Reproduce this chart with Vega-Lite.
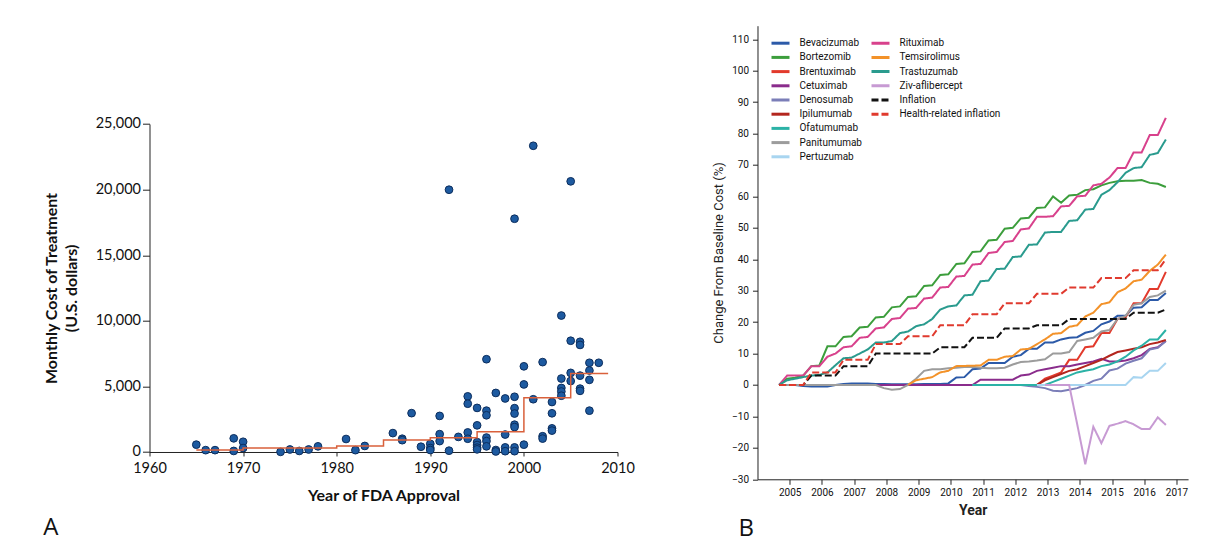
{
  "$schema": "https://vega.github.io/schema/vega-lite/v6.json",
  "background": "white",
  "padding": {"top": 25.7, "left": 42.5, "right": 0, "bottom": 6},
  "spacing": 78,
  "config": {"view": {"stroke": null}, "axis": {"grid": false}},
  "hconcat": [
    {
      "width": 468,
      "height": 426.3,
      "title": {"text": "A", "orient": "bottom", "anchor": "start", "frame": "bounds", "font": "Open Sans", "fontSize": 24, "fontWeight": "normal", "color": "#111", "offset": 13},
      "encoding": {
        "x": {"field": "year", "type": "quantitative",
          "scale": {"domain": [1960, 2010], "nice": false, "zero": false},
          "axis": {"values": [1960, 1970, 1980, 1990, 2000, 2010], "format": "d", "title": "Year of FDA Approval",
            "titleFont": "Lato", "titleFontSize": 16, "titleFontWeight": "bold", "titleColor": "#111", "titlePadding": 12,
            "labelFont": "Lato", "labelFontSize": 14.5, "labelColor": "#111", "labelPadding": 6, "labelFlush": false,
            "tickSize": 4, "domainColor": "#222", "tickColor": "#222"}},
        "y": {"field": "cost", "type": "quantitative",
          "scale": {"domain": [0, 25000], "nice": false, "range": [426.3, 98.3]},
          "axis": {"values": [0, 5000, 10000, 15000, 20000, 25000], "format": ",d", "title": ["Monthly Cost of Treatment", "(U.S. dollars)"],
            "titleFont": "Lato", "titleFontSize": 16, "titleFontWeight": "bold", "titleColor": "#111", "titlePadding": 16, "titleLineHeight": 20,
            "labelFont": "Lato", "labelFontSize": 14.5, "labelColor": "#111", "labelPadding": 2,
            "tickSize": 7, "domainColor": "#222", "tickColor": "#222"}}
      },
      "layer": [
        {
          "data": {"values": [
            {"year": 1965, "cost": 560}, {"year": 1966, "cost": 140}, {"year": 1967, "cost": 140},
            {"year": 1969, "cost": 1040}, {"year": 1969, "cost": 80}, {"year": 1970, "cost": 780}, {"year": 1970, "cost": 300},
            {"year": 1974, "cost": 10}, {"year": 1975, "cost": 190}, {"year": 1976, "cost": 80}, {"year": 1977, "cost": 190}, {"year": 1978, "cost": 430},
            {"year": 1981, "cost": 990}, {"year": 1982, "cost": 140}, {"year": 1983, "cost": 460},
            {"year": 1986, "cost": 1440}, {"year": 1987, "cost": 1010}, {"year": 1987, "cost": 900}, {"year": 1988, "cost": 2960}, {"year": 1989, "cost": 400},
            {"year": 1990, "cost": 620}, {"year": 1990, "cost": 300}, {"year": 1990, "cost": 150},
            {"year": 1991, "cost": 2750}, {"year": 1991, "cost": 1360}, {"year": 1991, "cost": 830},
            {"year": 1992, "cost": 19990}, {"year": 1992, "cost": 100}, {"year": 1993, "cost": 1150},
            {"year": 1994, "cost": 4240}, {"year": 1994, "cost": 3680}, {"year": 1994, "cost": 1490}, {"year": 1994, "cost": 1010},
            {"year": 1995, "cost": 3360}, {"year": 1995, "cost": 2030}, {"year": 1995, "cost": 750}, {"year": 1995, "cost": 530}, {"year": 1995, "cost": 330}, {"year": 1995, "cost": 200},
            {"year": 1996, "cost": 7070}, {"year": 1996, "cost": 3150}, {"year": 1996, "cost": 2800}, {"year": 1996, "cost": 1100}, {"year": 1996, "cost": 830}, {"year": 1996, "cost": 430},
            {"year": 1997, "cost": 4500}, {"year": 1997, "cost": 150}, {"year": 1997, "cost": 40},
            {"year": 1998, "cost": 4080}, {"year": 1998, "cost": 1330}, {"year": 1998, "cost": 350}, {"year": 1998, "cost": 60},
            {"year": 1999, "cost": 17780}, {"year": 1999, "cost": 4210}, {"year": 1999, "cost": 3340}, {"year": 1999, "cost": 2930}, {"year": 1999, "cost": 2080}, {"year": 1999, "cost": 1900}, {"year": 1999, "cost": 350}, {"year": 1999, "cost": 60},
            {"year": 2000, "cost": 6530}, {"year": 2000, "cost": 5150}, {"year": 2000, "cost": 560},
            {"year": 2001, "cost": 23340}, {"year": 2001, "cost": 4020},
            {"year": 2002, "cost": 6850}, {"year": 2002, "cost": 1200}, {"year": 2002, "cost": 1020},
            {"year": 2003, "cost": 3810}, {"year": 2003, "cost": 2950}, {"year": 2003, "cost": 1800}, {"year": 2003, "cost": 1630},
            {"year": 2004, "cost": 10400}, {"year": 2004, "cost": 5600}, {"year": 2004, "cost": 4880}, {"year": 2004, "cost": 4610}, {"year": 2004, "cost": 4290},
            {"year": 2005, "cost": 20630}, {"year": 2005, "cost": 8480}, {"year": 2005, "cost": 6030}, {"year": 2005, "cost": 5410},
            {"year": 2006, "cost": 8400}, {"year": 2006, "cost": 8160}, {"year": 2006, "cost": 5820}, {"year": 2006, "cost": 4830}, {"year": 2006, "cost": 4660},
            {"year": 2007, "cost": 6800}, {"year": 2007, "cost": 6210}, {"year": 2007, "cost": 5500}, {"year": 2007, "cost": 3150},
            {"year": 2008, "cost": 6800}
          ]},
          "mark": {"type": "circle", "size": 60, "fill": "#1d5aa0", "stroke": "#0c2d5c", "strokeWidth": 1, "opacity": 1}
        },
        {
          "data": {"values": [
            {"year": 1965, "cost": 150}, {"year": 1970, "cost": 310}, {"year": 1980, "cost": 460}, {"year": 1985, "cost": 915},
            {"year": 1990, "cost": 1090}, {"year": 1995, "cost": 1550}, {"year": 2000, "cost": 4130}, {"year": 2005, "cost": 5990}, {"year": 2009, "cost": 5990}
          ]},
          "mark": {"type": "line", "interpolate": "step-after", "color": "#d9603b", "strokeWidth": 1.5}
        }
      ]
    },
    {
      "width": 430.6,
      "height": 453.6,
      "title": {"text": "B", "orient": "bottom", "anchor": "start", "frame": "bounds", "font": "Open Sans", "fontSize": 24, "fontWeight": "normal", "color": "#111", "offset": 0, "dx": 26},
      "data": {"values": [
        {"s": "Bevacizumab", "t": 2004.67, "v": 0}, {"s": "Bevacizumab", "t": 2005.17, "v": 0}, {"s": "Bevacizumab", "t": 2005.42, "v": -0.3}, {"s": "Bevacizumab", "t": 2005.67, "v": -0.5}, {"s": "Bevacizumab", "t": 2006.17, "v": -0.5}, {"s": "Bevacizumab", "t": 2006.42, "v": 0}, {"s": "Bevacizumab", "t": 2006.67, "v": 0.3}, {"s": "Bevacizumab", "t": 2006.92, "v": 0.5}, {"s": "Bevacizumab", "t": 2007.42, "v": 0.5}, {"s": "Bevacizumab", "t": 2007.67, "v": 0.3}, {"s": "Bevacizumab", "t": 2007.92, "v": 0.3}, {"s": "Bevacizumab", "t": 2008.17, "v": 0.2}, {"s": "Bevacizumab", "t": 2008.92, "v": 0.2}, {"s": "Bevacizumab", "t": 2009.17, "v": 0.3}, {"s": "Bevacizumab", "t": 2009.67, "v": 0.3}, {"s": "Bevacizumab", "t": 2009.92, "v": 0.5}, {"s": "Bevacizumab", "t": 2010.17, "v": 2.4}, {"s": "Bevacizumab", "t": 2010.42, "v": 2.5}, {"s": "Bevacizumab", "t": 2010.67, "v": 5}, {"s": "Bevacizumab", "t": 2010.92, "v": 5.2}, {"s": "Bevacizumab", "t": 2011.17, "v": 7}, {"s": "Bevacizumab", "t": 2011.67, "v": 7}, {"s": "Bevacizumab", "t": 2011.92, "v": 9}, {"s": "Bevacizumab", "t": 2012.17, "v": 9.5}, {"s": "Bevacizumab", "t": 2012.42, "v": 11.5}, {"s": "Bevacizumab", "t": 2012.67, "v": 11.5}, {"s": "Bevacizumab", "t": 2012.92, "v": 13.5}, {"s": "Bevacizumab", "t": 2013.17, "v": 13.5}, {"s": "Bevacizumab", "t": 2013.42, "v": 14.5}, {"s": "Bevacizumab", "t": 2013.67, "v": 15}, {"s": "Bevacizumab", "t": 2013.92, "v": 15.2}, {"s": "Bevacizumab", "t": 2014.17, "v": 16.6}, {"s": "Bevacizumab", "t": 2014.42, "v": 17.2}, {"s": "Bevacizumab", "t": 2014.67, "v": 19.3}, {"s": "Bevacizumab", "t": 2014.92, "v": 20.2}, {"s": "Bevacizumab", "t": 2015.17, "v": 22}, {"s": "Bevacizumab", "t": 2015.42, "v": 22}, {"s": "Bevacizumab", "t": 2015.67, "v": 24.6}, {"s": "Bevacizumab", "t": 2015.92, "v": 24.7}, {"s": "Bevacizumab", "t": 2016.17, "v": 27}, {"s": "Bevacizumab", "t": 2016.42, "v": 27}, {"s": "Bevacizumab", "t": 2016.67, "v": 29.3},

        {"s": "Bortezomib", "t": 2004.67, "v": 0}, {"s": "Bortezomib", "t": 2004.92, "v": 2}, {"s": "Bortezomib", "t": 2005.17, "v": 2.3}, {"s": "Bortezomib", "t": 2005.42, "v": 3}, {"s": "Bortezomib", "t": 2005.67, "v": 6}, {"s": "Bortezomib", "t": 2005.92, "v": 6.2}, {"s": "Bortezomib", "t": 2006.17, "v": 12.3}, {"s": "Bortezomib", "t": 2006.42, "v": 12.3}, {"s": "Bortezomib", "t": 2006.67, "v": 15.3}, {"s": "Bortezomib", "t": 2006.92, "v": 15.5}, {"s": "Bortezomib", "t": 2007.17, "v": 18.3}, {"s": "Bortezomib", "t": 2007.42, "v": 18.5}, {"s": "Bortezomib", "t": 2007.67, "v": 21.5}, {"s": "Bortezomib", "t": 2007.92, "v": 21.7}, {"s": "Bortezomib", "t": 2008.17, "v": 24.7}, {"s": "Bortezomib", "t": 2008.42, "v": 25}, {"s": "Bortezomib", "t": 2008.67, "v": 28}, {"s": "Bortezomib", "t": 2008.92, "v": 28.2}, {"s": "Bortezomib", "t": 2009.17, "v": 31.5}, {"s": "Bortezomib", "t": 2009.42, "v": 31.7}, {"s": "Bortezomib", "t": 2009.67, "v": 35}, {"s": "Bortezomib", "t": 2009.92, "v": 35.2}, {"s": "Bortezomib", "t": 2010.17, "v": 38.5}, {"s": "Bortezomib", "t": 2010.42, "v": 38.7}, {"s": "Bortezomib", "t": 2010.67, "v": 42.3}, {"s": "Bortezomib", "t": 2010.92, "v": 42.5}, {"s": "Bortezomib", "t": 2011.17, "v": 46}, {"s": "Bortezomib", "t": 2011.42, "v": 46.2}, {"s": "Bortezomib", "t": 2011.67, "v": 49.7}, {"s": "Bortezomib", "t": 2011.92, "v": 50}, {"s": "Bortezomib", "t": 2012.17, "v": 53}, {"s": "Bortezomib", "t": 2012.42, "v": 53.2}, {"s": "Bortezomib", "t": 2012.67, "v": 56.3}, {"s": "Bortezomib", "t": 2012.92, "v": 56.5}, {"s": "Bortezomib", "t": 2013.17, "v": 60}, {"s": "Bortezomib", "t": 2013.42, "v": 58}, {"s": "Bortezomib", "t": 2013.67, "v": 60.3}, {"s": "Bortezomib", "t": 2013.92, "v": 60.5}, {"s": "Bortezomib", "t": 2014.17, "v": 62}, {"s": "Bortezomib", "t": 2014.42, "v": 62.3}, {"s": "Bortezomib", "t": 2014.67, "v": 63.5}, {"s": "Bortezomib", "t": 2014.92, "v": 64.3}, {"s": "Bortezomib", "t": 2015.17, "v": 64.8}, {"s": "Bortezomib", "t": 2015.42, "v": 65}, {"s": "Bortezomib", "t": 2015.67, "v": 65}, {"s": "Bortezomib", "t": 2015.92, "v": 65.2}, {"s": "Bortezomib", "t": 2016.17, "v": 64.3}, {"s": "Bortezomib", "t": 2016.42, "v": 64}, {"s": "Bortezomib", "t": 2016.67, "v": 63},

        {"s": "Brentuximab", "t": 2011.67, "v": 0}, {"s": "Brentuximab", "t": 2012.67, "v": 0}, {"s": "Brentuximab", "t": 2012.92, "v": 2}, {"s": "Brentuximab", "t": 2013.17, "v": 3}, {"s": "Brentuximab", "t": 2013.42, "v": 4}, {"s": "Brentuximab", "t": 2013.67, "v": 8}, {"s": "Brentuximab", "t": 2013.92, "v": 8}, {"s": "Brentuximab", "t": 2014.17, "v": 12}, {"s": "Brentuximab", "t": 2014.42, "v": 12.3}, {"s": "Brentuximab", "t": 2014.67, "v": 16.5}, {"s": "Brentuximab", "t": 2014.92, "v": 16.5}, {"s": "Brentuximab", "t": 2015.17, "v": 21}, {"s": "Brentuximab", "t": 2015.42, "v": 21.5}, {"s": "Brentuximab", "t": 2015.67, "v": 26}, {"s": "Brentuximab", "t": 2015.92, "v": 26}, {"s": "Brentuximab", "t": 2016.17, "v": 30.5}, {"s": "Brentuximab", "t": 2016.42, "v": 30.5}, {"s": "Brentuximab", "t": 2016.67, "v": 36},

        {"s": "Cetuximab", "t": 2004.67, "v": 0}, {"s": "Cetuximab", "t": 2010.67, "v": 0}, {"s": "Cetuximab", "t": 2010.92, "v": 1.7}, {"s": "Cetuximab", "t": 2011.92, "v": 1.7}, {"s": "Cetuximab", "t": 2012.17, "v": 3}, {"s": "Cetuximab", "t": 2012.42, "v": 3.3}, {"s": "Cetuximab", "t": 2012.67, "v": 4.5}, {"s": "Cetuximab", "t": 2012.92, "v": 5}, {"s": "Cetuximab", "t": 2013.17, "v": 5.5}, {"s": "Cetuximab", "t": 2013.42, "v": 6}, {"s": "Cetuximab", "t": 2013.67, "v": 6}, {"s": "Cetuximab", "t": 2013.92, "v": 6.5}, {"s": "Cetuximab", "t": 2014.17, "v": 7}, {"s": "Cetuximab", "t": 2014.42, "v": 7.5}, {"s": "Cetuximab", "t": 2014.67, "v": 8.3}, {"s": "Cetuximab", "t": 2014.92, "v": 7.5}, {"s": "Cetuximab", "t": 2015.17, "v": 7.5}, {"s": "Cetuximab", "t": 2015.42, "v": 7.8}, {"s": "Cetuximab", "t": 2015.67, "v": 8.5}, {"s": "Cetuximab", "t": 2015.92, "v": 9.5}, {"s": "Cetuximab", "t": 2016.17, "v": 11.5}, {"s": "Cetuximab", "t": 2016.42, "v": 12}, {"s": "Cetuximab", "t": 2016.67, "v": 14},

        {"s": "Denosumab", "t": 2010.67, "v": 0}, {"s": "Denosumab", "t": 2012.17, "v": 0}, {"s": "Denosumab", "t": 2012.42, "v": -0.3}, {"s": "Denosumab", "t": 2012.67, "v": -0.6}, {"s": "Denosumab", "t": 2012.92, "v": -1}, {"s": "Denosumab", "t": 2013.17, "v": -1.8}, {"s": "Denosumab", "t": 2013.42, "v": -2}, {"s": "Denosumab", "t": 2013.67, "v": -1.5}, {"s": "Denosumab", "t": 2013.92, "v": -1}, {"s": "Denosumab", "t": 2014.17, "v": 0}, {"s": "Denosumab", "t": 2014.42, "v": 1.3}, {"s": "Denosumab", "t": 2014.67, "v": 2}, {"s": "Denosumab", "t": 2014.92, "v": 4.6}, {"s": "Denosumab", "t": 2015.17, "v": 5.2}, {"s": "Denosumab", "t": 2015.42, "v": 6.8}, {"s": "Denosumab", "t": 2015.67, "v": 7.7}, {"s": "Denosumab", "t": 2015.92, "v": 8.5}, {"s": "Denosumab", "t": 2016.17, "v": 11.3}, {"s": "Denosumab", "t": 2016.42, "v": 11.8}, {"s": "Denosumab", "t": 2016.67, "v": 14},

        {"s": "Ipilumumab", "t": 2011.17, "v": 0}, {"s": "Ipilumumab", "t": 2012.67, "v": 0}, {"s": "Ipilumumab", "t": 2012.92, "v": 1.5}, {"s": "Ipilumumab", "t": 2013.17, "v": 2.5}, {"s": "Ipilumumab", "t": 2013.42, "v": 3.5}, {"s": "Ipilumumab", "t": 2013.67, "v": 4.5}, {"s": "Ipilumumab", "t": 2013.92, "v": 5}, {"s": "Ipilumumab", "t": 2014.17, "v": 6}, {"s": "Ipilumumab", "t": 2014.42, "v": 7}, {"s": "Ipilumumab", "t": 2014.67, "v": 8}, {"s": "Ipilumumab", "t": 2014.92, "v": 9.3}, {"s": "Ipilumumab", "t": 2015.17, "v": 10.5}, {"s": "Ipilumumab", "t": 2015.42, "v": 11}, {"s": "Ipilumumab", "t": 2015.67, "v": 11.5}, {"s": "Ipilumumab", "t": 2015.92, "v": 12}, {"s": "Ipilumumab", "t": 2016.17, "v": 13}, {"s": "Ipilumumab", "t": 2016.42, "v": 13.5}, {"s": "Ipilumumab", "t": 2016.67, "v": 14.3},

        {"s": "Ofatumumab", "t": 2010.67, "v": 0}, {"s": "Ofatumumab", "t": 2012.92, "v": 0}, {"s": "Ofatumumab", "t": 2013.17, "v": 1}, {"s": "Ofatumumab", "t": 2013.42, "v": 2}, {"s": "Ofatumumab", "t": 2013.67, "v": 3}, {"s": "Ofatumumab", "t": 2013.92, "v": 4}, {"s": "Ofatumumab", "t": 2014.17, "v": 4.5}, {"s": "Ofatumumab", "t": 2014.42, "v": 5}, {"s": "Ofatumumab", "t": 2014.67, "v": 6}, {"s": "Ofatumumab", "t": 2014.92, "v": 6.5}, {"s": "Ofatumumab", "t": 2015.17, "v": 7.5}, {"s": "Ofatumumab", "t": 2015.42, "v": 9}, {"s": "Ofatumumab", "t": 2015.67, "v": 11}, {"s": "Ofatumumab", "t": 2015.92, "v": 12.5}, {"s": "Ofatumumab", "t": 2016.17, "v": 14.5}, {"s": "Ofatumumab", "t": 2016.42, "v": 14.5}, {"s": "Ofatumumab", "t": 2016.67, "v": 17.5},

        {"s": "Panitumumab", "t": 2004.67, "v": 0}, {"s": "Panitumumab", "t": 2007.67, "v": 0}, {"s": "Panitumumab", "t": 2007.92, "v": -1}, {"s": "Panitumumab", "t": 2008.17, "v": -1.5}, {"s": "Panitumumab", "t": 2008.42, "v": -1.3}, {"s": "Panitumumab", "t": 2008.67, "v": 0}, {"s": "Panitumumab", "t": 2008.92, "v": 2}, {"s": "Panitumumab", "t": 2009.17, "v": 4.5}, {"s": "Panitumumab", "t": 2009.42, "v": 5}, {"s": "Panitumumab", "t": 2009.67, "v": 5}, {"s": "Panitumumab", "t": 2009.92, "v": 5.3}, {"s": "Panitumumab", "t": 2010.17, "v": 5.5}, {"s": "Panitumumab", "t": 2010.42, "v": 5.7}, {"s": "Panitumumab", "t": 2010.67, "v": 5.8}, {"s": "Panitumumab", "t": 2010.92, "v": 5.5}, {"s": "Panitumumab", "t": 2011.17, "v": 5.3}, {"s": "Panitumumab", "t": 2011.42, "v": 5.3}, {"s": "Panitumumab", "t": 2011.67, "v": 5.5}, {"s": "Panitumumab", "t": 2011.92, "v": 6.5}, {"s": "Panitumumab", "t": 2012.17, "v": 7.3}, {"s": "Panitumumab", "t": 2012.42, "v": 7.5}, {"s": "Panitumumab", "t": 2012.67, "v": 7.8}, {"s": "Panitumumab", "t": 2012.92, "v": 8.2}, {"s": "Panitumumab", "t": 2013.17, "v": 10}, {"s": "Panitumumab", "t": 2013.42, "v": 10}, {"s": "Panitumumab", "t": 2013.67, "v": 10.5}, {"s": "Panitumumab", "t": 2013.92, "v": 14}, {"s": "Panitumumab", "t": 2014.17, "v": 14.5}, {"s": "Panitumumab", "t": 2014.42, "v": 15}, {"s": "Panitumumab", "t": 2014.67, "v": 17}, {"s": "Panitumumab", "t": 2014.92, "v": 17.5}, {"s": "Panitumumab", "t": 2015.17, "v": 21}, {"s": "Panitumumab", "t": 2015.42, "v": 22}, {"s": "Panitumumab", "t": 2015.67, "v": 25.5}, {"s": "Panitumumab", "t": 2015.92, "v": 26}, {"s": "Panitumumab", "t": 2016.17, "v": 28}, {"s": "Panitumumab", "t": 2016.42, "v": 28.5}, {"s": "Panitumumab", "t": 2016.67, "v": 30},

        {"s": "Pertuzumab", "t": 2012.67, "v": 0}, {"s": "Pertuzumab", "t": 2015.42, "v": 0}, {"s": "Pertuzumab", "t": 2015.67, "v": 2.5}, {"s": "Pertuzumab", "t": 2015.92, "v": 2.3}, {"s": "Pertuzumab", "t": 2016.17, "v": 4.5}, {"s": "Pertuzumab", "t": 2016.42, "v": 4.5}, {"s": "Pertuzumab", "t": 2016.67, "v": 7},

        {"s": "Rituximab", "t": 2004.67, "v": 0}, {"s": "Rituximab", "t": 2004.92, "v": 3}, {"s": "Rituximab", "t": 2005.17, "v": 3}, {"s": "Rituximab", "t": 2005.42, "v": 3}, {"s": "Rituximab", "t": 2005.67, "v": 6}, {"s": "Rituximab", "t": 2005.92, "v": 6}, {"s": "Rituximab", "t": 2006.17, "v": 9}, {"s": "Rituximab", "t": 2006.42, "v": 10}, {"s": "Rituximab", "t": 2006.67, "v": 12}, {"s": "Rituximab", "t": 2006.92, "v": 12.3}, {"s": "Rituximab", "t": 2007.17, "v": 15}, {"s": "Rituximab", "t": 2007.42, "v": 15.3}, {"s": "Rituximab", "t": 2007.67, "v": 18}, {"s": "Rituximab", "t": 2007.92, "v": 18.3}, {"s": "Rituximab", "t": 2008.17, "v": 21}, {"s": "Rituximab", "t": 2008.42, "v": 21.3}, {"s": "Rituximab", "t": 2008.67, "v": 24.3}, {"s": "Rituximab", "t": 2008.92, "v": 24.5}, {"s": "Rituximab", "t": 2009.17, "v": 27.5}, {"s": "Rituximab", "t": 2009.42, "v": 27.8}, {"s": "Rituximab", "t": 2009.67, "v": 31}, {"s": "Rituximab", "t": 2009.92, "v": 31.2}, {"s": "Rituximab", "t": 2010.17, "v": 34.5}, {"s": "Rituximab", "t": 2010.42, "v": 34.7}, {"s": "Rituximab", "t": 2010.67, "v": 38.3}, {"s": "Rituximab", "t": 2010.92, "v": 38.5}, {"s": "Rituximab", "t": 2011.17, "v": 42}, {"s": "Rituximab", "t": 2011.42, "v": 42.3}, {"s": "Rituximab", "t": 2011.67, "v": 45.5}, {"s": "Rituximab", "t": 2011.92, "v": 45.8}, {"s": "Rituximab", "t": 2012.17, "v": 49.5}, {"s": "Rituximab", "t": 2012.42, "v": 49.8}, {"s": "Rituximab", "t": 2012.67, "v": 53.5}, {"s": "Rituximab", "t": 2012.92, "v": 53.5}, {"s": "Rituximab", "t": 2013.17, "v": 53.7}, {"s": "Rituximab", "t": 2013.42, "v": 56.8}, {"s": "Rituximab", "t": 2013.67, "v": 57}, {"s": "Rituximab", "t": 2013.92, "v": 60}, {"s": "Rituximab", "t": 2014.17, "v": 60.2}, {"s": "Rituximab", "t": 2014.42, "v": 63.5}, {"s": "Rituximab", "t": 2014.67, "v": 64}, {"s": "Rituximab", "t": 2014.92, "v": 66}, {"s": "Rituximab", "t": 2015.17, "v": 69}, {"s": "Rituximab", "t": 2015.42, "v": 69}, {"s": "Rituximab", "t": 2015.67, "v": 74}, {"s": "Rituximab", "t": 2015.92, "v": 74}, {"s": "Rituximab", "t": 2016.17, "v": 79.5}, {"s": "Rituximab", "t": 2016.42, "v": 79.5}, {"s": "Rituximab", "t": 2016.67, "v": 85},

        {"s": "Temsirolimus", "t": 2008.67, "v": 0}, {"s": "Temsirolimus", "t": 2008.92, "v": 1.5}, {"s": "Temsirolimus", "t": 2009.17, "v": 2}, {"s": "Temsirolimus", "t": 2009.42, "v": 2.5}, {"s": "Temsirolimus", "t": 2009.67, "v": 4}, {"s": "Temsirolimus", "t": 2009.92, "v": 4.5}, {"s": "Temsirolimus", "t": 2010.17, "v": 6}, {"s": "Temsirolimus", "t": 2010.92, "v": 6.2}, {"s": "Temsirolimus", "t": 2011.17, "v": 8}, {"s": "Temsirolimus", "t": 2011.42, "v": 8}, {"s": "Temsirolimus", "t": 2011.67, "v": 9}, {"s": "Temsirolimus", "t": 2011.92, "v": 9.2}, {"s": "Temsirolimus", "t": 2012.17, "v": 11.3}, {"s": "Temsirolimus", "t": 2012.42, "v": 11.5}, {"s": "Temsirolimus", "t": 2012.67, "v": 13}, {"s": "Temsirolimus", "t": 2012.92, "v": 14.5}, {"s": "Temsirolimus", "t": 2013.17, "v": 16.3}, {"s": "Temsirolimus", "t": 2013.42, "v": 16.5}, {"s": "Temsirolimus", "t": 2013.67, "v": 18.5}, {"s": "Temsirolimus", "t": 2013.92, "v": 19}, {"s": "Temsirolimus", "t": 2014.17, "v": 21.8}, {"s": "Temsirolimus", "t": 2014.42, "v": 23}, {"s": "Temsirolimus", "t": 2014.67, "v": 25.7}, {"s": "Temsirolimus", "t": 2014.92, "v": 26.3}, {"s": "Temsirolimus", "t": 2015.17, "v": 29.5}, {"s": "Temsirolimus", "t": 2015.42, "v": 30.7}, {"s": "Temsirolimus", "t": 2015.67, "v": 33}, {"s": "Temsirolimus", "t": 2015.92, "v": 33.5}, {"s": "Temsirolimus", "t": 2016.17, "v": 36.3}, {"s": "Temsirolimus", "t": 2016.42, "v": 38.3}, {"s": "Temsirolimus", "t": 2016.67, "v": 41.5},

        {"s": "Trastuzumab", "t": 2004.67, "v": 0}, {"s": "Trastuzumab", "t": 2004.92, "v": 1.5}, {"s": "Trastuzumab", "t": 2005.17, "v": 2}, {"s": "Trastuzumab", "t": 2005.42, "v": 2.5}, {"s": "Trastuzumab", "t": 2005.67, "v": 3}, {"s": "Trastuzumab", "t": 2005.92, "v": 3.2}, {"s": "Trastuzumab", "t": 2006.17, "v": 4}, {"s": "Trastuzumab", "t": 2006.42, "v": 6.3}, {"s": "Trastuzumab", "t": 2006.67, "v": 8.5}, {"s": "Trastuzumab", "t": 2006.92, "v": 8.7}, {"s": "Trastuzumab", "t": 2007.17, "v": 10}, {"s": "Trastuzumab", "t": 2007.42, "v": 11.3}, {"s": "Trastuzumab", "t": 2007.67, "v": 13.5}, {"s": "Trastuzumab", "t": 2007.92, "v": 13.5}, {"s": "Trastuzumab", "t": 2008.17, "v": 14}, {"s": "Trastuzumab", "t": 2008.42, "v": 16.5}, {"s": "Trastuzumab", "t": 2008.67, "v": 17}, {"s": "Trastuzumab", "t": 2008.92, "v": 18.7}, {"s": "Trastuzumab", "t": 2009.17, "v": 19.3}, {"s": "Trastuzumab", "t": 2009.42, "v": 21}, {"s": "Trastuzumab", "t": 2009.67, "v": 24}, {"s": "Trastuzumab", "t": 2009.92, "v": 25}, {"s": "Trastuzumab", "t": 2010.17, "v": 25.3}, {"s": "Trastuzumab", "t": 2010.42, "v": 28.5}, {"s": "Trastuzumab", "t": 2010.67, "v": 28.7}, {"s": "Trastuzumab", "t": 2010.92, "v": 33}, {"s": "Trastuzumab", "t": 2011.17, "v": 33.2}, {"s": "Trastuzumab", "t": 2011.42, "v": 36.9}, {"s": "Trastuzumab", "t": 2011.67, "v": 37}, {"s": "Trastuzumab", "t": 2011.92, "v": 40.7}, {"s": "Trastuzumab", "t": 2012.17, "v": 40.9}, {"s": "Trastuzumab", "t": 2012.42, "v": 44.6}, {"s": "Trastuzumab", "t": 2012.67, "v": 44.7}, {"s": "Trastuzumab", "t": 2012.92, "v": 48.5}, {"s": "Trastuzumab", "t": 2013.17, "v": 48.7}, {"s": "Trastuzumab", "t": 2013.42, "v": 48.7}, {"s": "Trastuzumab", "t": 2013.67, "v": 52.2}, {"s": "Trastuzumab", "t": 2013.92, "v": 52.4}, {"s": "Trastuzumab", "t": 2014.17, "v": 55.8}, {"s": "Trastuzumab", "t": 2014.42, "v": 56}, {"s": "Trastuzumab", "t": 2014.67, "v": 60.5}, {"s": "Trastuzumab", "t": 2014.92, "v": 62}, {"s": "Trastuzumab", "t": 2015.17, "v": 64.5}, {"s": "Trastuzumab", "t": 2015.42, "v": 67.5}, {"s": "Trastuzumab", "t": 2015.67, "v": 69}, {"s": "Trastuzumab", "t": 2015.92, "v": 69.3}, {"s": "Trastuzumab", "t": 2016.17, "v": 73.2}, {"s": "Trastuzumab", "t": 2016.42, "v": 73.8}, {"s": "Trastuzumab", "t": 2016.67, "v": 78.1},

        {"s": "Ziv-aflibercept", "t": 2012.92, "v": 0}, {"s": "Ziv-aflibercept", "t": 2013.67, "v": 0}, {"s": "Ziv-aflibercept", "t": 2013.92, "v": -12.5}, {"s": "Ziv-aflibercept", "t": 2014.17, "v": -25.2}, {"s": "Ziv-aflibercept", "t": 2014.42, "v": -13.3}, {"s": "Ziv-aflibercept", "t": 2014.67, "v": -18.5}, {"s": "Ziv-aflibercept", "t": 2014.92, "v": -13}, {"s": "Ziv-aflibercept", "t": 2015.17, "v": -12.3}, {"s": "Ziv-aflibercept", "t": 2015.42, "v": -11.5}, {"s": "Ziv-aflibercept", "t": 2015.67, "v": -12.5}, {"s": "Ziv-aflibercept", "t": 2015.92, "v": -14}, {"s": "Ziv-aflibercept", "t": 2016.17, "v": -14}, {"s": "Ziv-aflibercept", "t": 2016.42, "v": -10.3}, {"s": "Ziv-aflibercept", "t": 2016.67, "v": -12.7},

        {"s": "Inflation", "t": 2004.67, "v": 0}, {"s": "Inflation", "t": 2005.42, "v": 0}, {"s": "Inflation", "t": 2005.67, "v": 3}, {"s": "Inflation", "t": 2006.42, "v": 3}, {"s": "Inflation", "t": 2006.67, "v": 6}, {"s": "Inflation", "t": 2007.42, "v": 6}, {"s": "Inflation", "t": 2007.67, "v": 10}, {"s": "Inflation", "t": 2009.42, "v": 10}, {"s": "Inflation", "t": 2009.67, "v": 12}, {"s": "Inflation", "t": 2010.42, "v": 12}, {"s": "Inflation", "t": 2010.67, "v": 15}, {"s": "Inflation", "t": 2011.42, "v": 15}, {"s": "Inflation", "t": 2011.67, "v": 18}, {"s": "Inflation", "t": 2012.42, "v": 18}, {"s": "Inflation", "t": 2012.67, "v": 19}, {"s": "Inflation", "t": 2013.42, "v": 19}, {"s": "Inflation", "t": 2013.67, "v": 21}, {"s": "Inflation", "t": 2015.42, "v": 21}, {"s": "Inflation", "t": 2015.67, "v": 23}, {"s": "Inflation", "t": 2016.42, "v": 23}, {"s": "Inflation", "t": 2016.67, "v": 24},

        {"s": "Health-related inflation", "t": 2004.67, "v": 0}, {"s": "Health-related inflation", "t": 2005.42, "v": 0}, {"s": "Health-related inflation", "t": 2005.67, "v": 4}, {"s": "Health-related inflation", "t": 2006.42, "v": 4}, {"s": "Health-related inflation", "t": 2006.67, "v": 8}, {"s": "Health-related inflation", "t": 2007.42, "v": 8}, {"s": "Health-related inflation", "t": 2007.67, "v": 13}, {"s": "Health-related inflation", "t": 2008.42, "v": 13}, {"s": "Health-related inflation", "t": 2008.67, "v": 15.5}, {"s": "Health-related inflation", "t": 2009.42, "v": 15.5}, {"s": "Health-related inflation", "t": 2009.67, "v": 19}, {"s": "Health-related inflation", "t": 2010.42, "v": 19}, {"s": "Health-related inflation", "t": 2010.67, "v": 22.5}, {"s": "Health-related inflation", "t": 2011.42, "v": 22.5}, {"s": "Health-related inflation", "t": 2011.67, "v": 26}, {"s": "Health-related inflation", "t": 2012.42, "v": 26}, {"s": "Health-related inflation", "t": 2012.67, "v": 29}, {"s": "Health-related inflation", "t": 2013.42, "v": 29}, {"s": "Health-related inflation", "t": 2013.67, "v": 31}, {"s": "Health-related inflation", "t": 2014.42, "v": 31}, {"s": "Health-related inflation", "t": 2014.67, "v": 34}, {"s": "Health-related inflation", "t": 2015.42, "v": 34}, {"s": "Health-related inflation", "t": 2015.67, "v": 36.5}, {"s": "Health-related inflation", "t": 2016.42, "v": 36.5}, {"s": "Health-related inflation", "t": 2016.67, "v": 40}
      ]},
      "encoding": {
        "x": {"field": "t", "type": "quantitative",
          "scale": {"domain": [2004, 2017.36], "nice": false, "zero": false},
          "axis": {"values": [2005, 2006, 2007, 2008, 2009, 2010, 2011, 2012, 2013, 2014, 2015, 2016, 2017], "format": "d", "title": "Year",
            "titleFont": "Roboto", "titleFontSize": 14, "titleFontWeight": "bold", "titleColor": "#222", "titlePadding": 6,
            "labelFont": "Roboto", "labelFontSize": 10, "labelColor": "#111", "labelPadding": 3, "labelFlush": false,
            "tickSize": 5, "domainColor": "#222", "tickColor": "#222"}},
        "y": {"field": "v", "type": "quantitative",
          "scale": {"domain": [-30, 114.3], "nice": false, "zero": false},
          "axis": {"values": [-30, -20, -10, 0, 10, 20, 30, 40, 50, 60, 70, 80, 90, 100, 110], "title": "Change From Baseline Cost (%)",
            "titleFont": "Roboto", "titleFontSize": 13, "titleFontWeight": "normal", "titleColor": "#222", "titlePadding": 6,
            "labelFont": "Roboto", "labelFontSize": 10, "labelColor": "#111", "labelPadding": 4,
            "tickSize": 5, "domainColor": "#222", "tickColor": "#222"}}
      },
      "layer": [
        {
          "transform": [{"filter": {"field": "s", "oneOf": ["Bevacizumab", "Bortezomib", "Brentuximab", "Cetuximab", "Denosumab", "Ipilumumab", "Ofatumumab", "Panitumumab", "Pertuzumab"]}}],
          "mark": {"type": "line", "strokeWidth": 2},
          "encoding": {
            "color": {"field": "s", "type": "nominal",
              "scale": {"domain": ["Bevacizumab", "Bortezomib", "Brentuximab", "Cetuximab", "Denosumab", "Ipilumumab", "Ofatumumab", "Panitumumab", "Pertuzumab"],
                "range": ["#2c5aa8", "#3c9e3c", "#e23a2c", "#8a2c8c", "#7b7eb8", "#b3261e", "#2bb2a6", "#9c9c9c", "#a8d5f0"]},
              "legend": {"orient": "none", "legendX": 16.5, "legendY": 11, "title": null, "padding": 0,
                "labelFont": "Roboto", "labelFontSize": 10, "labelColor": "#111", "labelOffset": 12.5,
                "symbolType": "M-1.8,0L1.8,0", "symbolSize": 100, "symbolStrokeWidth": 3, "rowPadding": 1.2}}
          }
        },
        {
          "transform": [{"filter": {"field": "s", "oneOf": ["Rituximab", "Temsirolimus", "Trastuzumab", "Ziv-aflibercept", "Inflation", "Health-related inflation"]}}],
          "mark": {"type": "line", "strokeWidth": 2},
          "encoding": {
            "color": {"field": "s", "type": "nominal",
              "scale": {"domain": ["Rituximab", "Temsirolimus", "Trastuzumab", "Ziv-aflibercept", "Inflation", "Health-related inflation"],
                "range": ["#d8418c", "#f39229", "#2a9b8e", "#c79ad3", "#111111", "#e03a2e"]},
              "legend": {"orient": "none", "legendX": 116.5, "legendY": 11, "title": null, "padding": 0,
                "labelFont": "Roboto", "labelFontSize": 10, "labelColor": "#111", "labelOffset": 12.5,
                "symbolType": "M-1.8,0L1.8,0", "symbolSize": 100, "symbolStrokeWidth": 3, "rowPadding": 1.2}},
            "strokeDash": {"field": "s", "type": "nominal",
              "scale": {"domain": ["Rituximab", "Temsirolimus", "Trastuzumab", "Ziv-aflibercept", "Inflation", "Health-related inflation"],
                "range": [[1, 0], [1, 0], [1, 0], [1, 0], [7, 3], [7, 3]]},
              "legend": {"orient": "none", "legendX": 116.5, "legendY": 11, "title": null, "padding": 0,
                "labelFont": "Roboto", "labelFontSize": 10, "labelColor": "#111", "labelOffset": 12.5,
                "symbolType": "M-1.8,0L1.8,0", "symbolSize": 100, "symbolStrokeWidth": 3, "rowPadding": 1.2}}
          }
        }
      ],
      "resolve": {"scale": {"color": "independent", "strokeDash": "independent"}}
    }
  ]
}
